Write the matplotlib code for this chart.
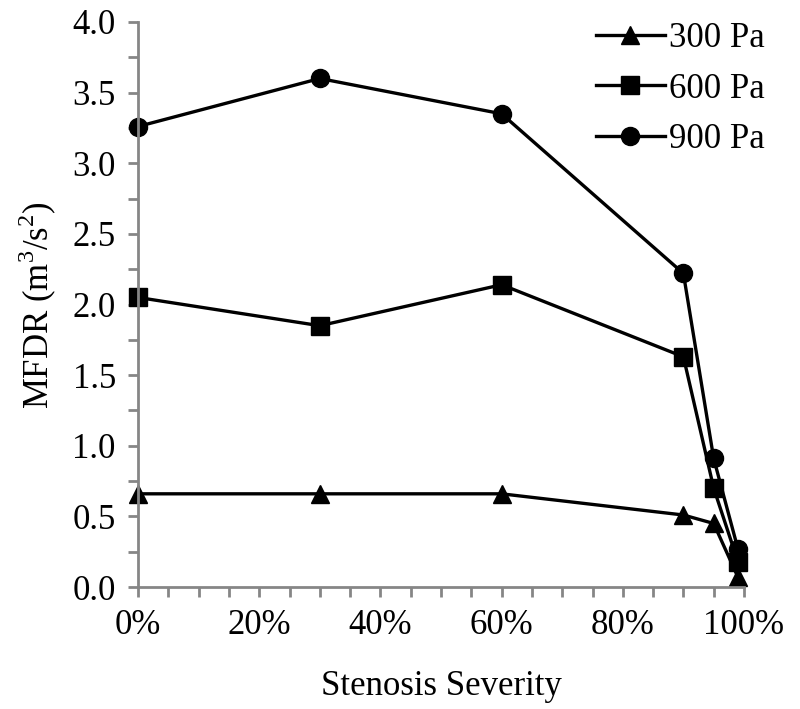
import matplotlib
matplotlib.use("Agg")
import matplotlib.pyplot as plt
from matplotlib.ticker import MultipleLocator, FuncFormatter

# stenosis severity (%)
severity = [0, 30, 60, 90, 95, 99]
mfdr_300 = [0.66, 0.66, 0.66, 0.51, 0.45, 0.07]
mfdr_600 = [2.05, 1.85, 2.14, 1.63, 0.70, 0.18]
mfdr_900 = [3.26, 3.60, 3.35, 2.22, 0.91, 0.27]
labels = ["300 Pa", "600 Pa", "900 Pa"]

plt.rcParams['font.family'] = ['Liberation Serif', 'DejaVu Serif']
plt.rcParams['mathtext.fontset'] = 'custom'
plt.rcParams['mathtext.rm'] = 'Liberation Serif'

fig = plt.figure(figsize=(8, 7.09), dpi=100)
ax = fig.add_axes([0.1725, 0.172, 0.7575, 0.797])

ax.plot(severity, mfdr_300, '-^', color='black', lw=2.4, ms=13, label=labels[0])
ax.plot(severity, mfdr_600, '-s', color='black', lw=2.4, ms=13, label=labels[1])
ax.plot(severity, mfdr_900, '-o', color='black', lw=2.4, ms=13, label=labels[2])

ax.set_xlim(0, 100)
ax.set_ylim(0, 4.0)
ax.xaxis.set_major_locator(MultipleLocator(20))
ax.xaxis.set_minor_locator(MultipleLocator(5))
ax.yaxis.set_major_locator(MultipleLocator(0.5))
ax.yaxis.set_minor_locator(MultipleLocator(0.25))
ax.xaxis.set_major_formatter(FuncFormatter(lambda v, p: "%d%%" % v))
ax.yaxis.set_major_formatter(FuncFormatter(lambda v, p: "%.1f" % v))

for s in ['top', 'right']:
    ax.spines[s].set_visible(False)
for s in ['left', 'bottom']:
    ax.spines[s].set_color('#868686')
    ax.spines[s].set_linewidth(2)
ax.tick_params(which='both', direction='out', color='#868686', width=2,
               length=7, labelsize=25, pad=9)
for line in ax.lines:
    line.set_clip_on(False)

ax.set_xlabel("Stenosis Severity", fontsize=25, labelpad=20)
ax.set_ylabel("MFDR (m$^3$/s$^2$)", fontsize=25, labelpad=10)

ax.legend(loc='upper right', bbox_to_anchor=(1.085, 1.055), frameon=False,
          fontsize=25, handlelength=2.0, handletextpad=0.1, labelspacing=0.5)

fig.savefig("out.png", dpi=100)
